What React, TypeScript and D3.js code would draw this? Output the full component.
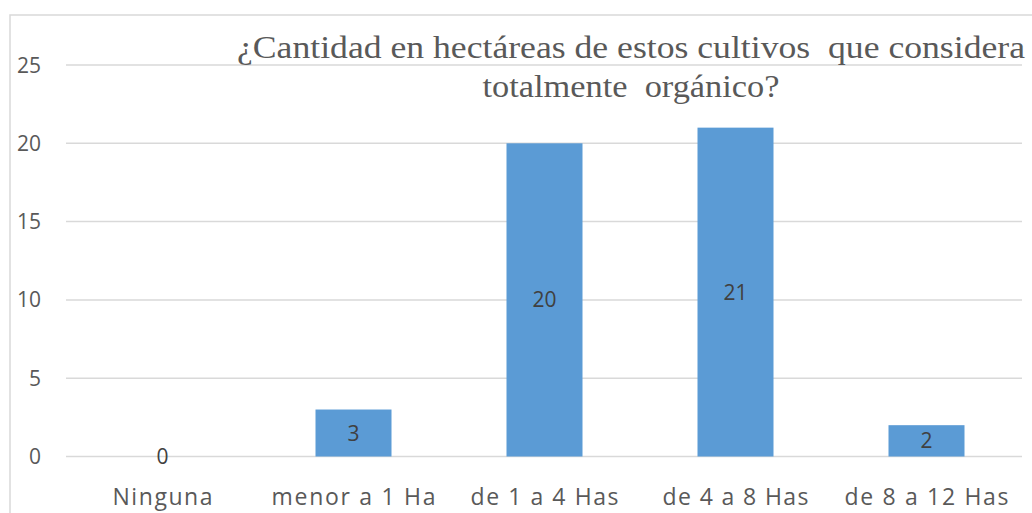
import React from "react";
import * as d3 from "d3";

const categories = ["Ninguna", "menor a 1 Ha", "de 1 a 4 Has", "de 4 a 8 Has", "de 8 a 12 Has"];
const values = [0, 3, 20, 21, 2];
const yTicks = [0, 5, 10, 15, 20, 25];
const titleLines = ["¿Cantidad en hectáreas de estos cultivos  que considera", "totalmente  orgánico?"];

const W = 1032;
const H = 513;

export default function App() {
  const band = d3.scaleBand<string>().domain(categories).range([67, 1022]);
  const y = d3.scaleLinear().domain([0, 25]).range([456.5, 65]);
  const sans = "'Open Sans', Lato, sans-serif";
  const catWidths = [100, 164, 148, 146, 164];
  return (
    <svg width={W} height={H} style={{ position: "absolute", left: 0, top: 0, background: "#fff" }}>
      <rect x={10} y={15} width={1040} height={520} fill="#fff" stroke="#d9d9d9" strokeWidth={1.5} />
      {yTicks.map((t) => (
        <g key={t}>
          <line x1={66} x2={1022} y1={y(t)} y2={y(t)} stroke="#d9d9d9" strokeWidth={1.5} />
          <text x={41} y={y(t)} dy="0.36em" textAnchor="end" fontFamily={sans} fontSize={21} fill="#595959">
            {t}
          </text>
        </g>
      ))}
      {categories.map((c, i) => {
        const cx = band(c)! + band.bandwidth() / 2;
        const bw = 76;
        return (
          <g key={c}>
            {values[i] > 0 && (
              <rect x={cx - bw / 2} y={y(values[i])} width={bw} height={y(0) - y(values[i])} fill="#5b9bd5" />
            )}
            <text
              x={cx}
              y={(y(values[i]) + y(0)) / 2}
              dy="0.36em"
              textAnchor="middle"
              fontFamily={sans}
              fontSize={21}
              fill="#404040"
            >
              {values[i]}
            </text>
            <text
              x={cx}
              y={505}
              textAnchor="middle"
              fontFamily={sans}
              fontSize={23}
              fill="#595959"
              textLength={catWidths[i]}
              lengthAdjust="spacing"
            >
              {c}
            </text>
          </g>
        );
      })}
      <text
        x={631}
        y={58}
        textAnchor="middle"
        fontFamily="'Liberation Serif', 'Times New Roman', serif"
        fontSize={31}
        fill="#595959"
        style={{ whiteSpace: "pre" }}
        textLength={788}
        lengthAdjust="spacingAndGlyphs"
      >
        {titleLines[0]}
      </text>
      <text
        x={631}
        y={97}
        textAnchor="middle"
        fontFamily="'Liberation Serif', 'Times New Roman', serif"
        fontSize={31}
        fill="#595959"
        style={{ whiteSpace: "pre" }}
        textLength={297}
        lengthAdjust="spacingAndGlyphs"
      >
        {titleLines[1]}
      </text>
    </svg>
  );
}
